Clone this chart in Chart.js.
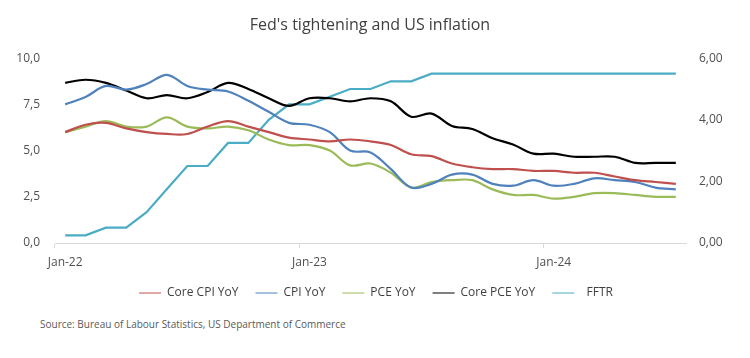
<!DOCTYPE html>
<html><head><meta charset="utf-8">
<script src="https://cdn.jsdelivr.net/npm/chart.js@4"></script>
<style>
html,body{margin:0;padding:0;background:#fff;width:750px;height:358px;overflow:hidden;}
#wrap{position:relative;width:750px;height:358px;background:#fff;}
#c{position:absolute;left:0;top:0;}
#src{position:absolute;left:40px;top:317px;font-family:'Open Sans';font-size:10px;color:#595959;line-height:14px;white-space:nowrap;}
</style></head><body>
<div id="wrap"><canvas id="c" width="740" height="309"></canvas><div id="src">Source: Bureau of Labour Statistics, US Department of Commerce</div></div>
<script>
const months = ['Jan-22','Feb-22','Mar-22','Apr-22','May-22','Jun-22','Jul-22','Aug-22','Sep-22','Oct-22','Nov-22','Dec-22',
  'Jan-23','Feb-23','Mar-23','Apr-23','May-23','Jun-23','Jul-23','Aug-23','Sep-23','Oct-23','Nov-23','Dec-23',
  'Jan-24','Feb-24','Mar-24','Apr-24','May-24','Jun-24','Jul-24'];
const coreCpiYoY = [6.0,6.4,6.5,6.2,6.0,5.9,5.9,6.3,6.6,6.3,6.0,5.7,5.6,5.5,5.6,5.5,5.3,4.8,4.7,4.3,4.1,4.0,4.0,3.9,3.9,3.8,3.8,3.6,3.4,3.3,3.2];
const cpiYoY = [7.5,7.9,8.5,8.3,8.6,9.1,8.5,8.3,8.2,7.7,7.1,6.5,6.4,6.0,5.0,4.9,4.0,3.0,3.2,3.7,3.7,3.2,3.1,3.4,3.1,3.2,3.5,3.4,3.3,3.0,2.9];
const pceYoY = [6.0,6.3,6.6,6.3,6.3,6.8,6.3,6.2,6.3,6.1,5.6,5.3,5.3,5.0,4.2,4.3,3.8,3.0,3.3,3.4,3.4,2.9,2.6,2.6,2.4,2.5,2.7,2.7,2.6,2.5,2.5];
const corePceYoY = [5.2,5.3,5.2,4.95,4.7,4.8,4.7,4.9,5.2,5.0,4.7,4.45,4.7,4.7,4.6,4.7,4.6,4.1,4.2,3.8,3.7,3.4,3.2,2.9,2.9,2.8,2.8,2.8,2.6,2.6,2.6];
const fftr = [0.25,0.25,0.5,0.5,1.0,1.75,2.5,2.5,3.25,3.25,4.0,4.5,4.5,4.75,5.0,5.0,5.25,5.25,5.5,5.5,5.5,5.5,5.5,5.5,5.5,5.5,5.5,5.5,5.5,5.5,5.5];
const leftTicks = [0, 2.5, 5, 7.5, 10];
const rightTicks = [0, 2, 4, 6];

const FONT = 'Open Sans';
const shiftLegend = {id:'shiftLegend', afterLayout(chart){ const l = chart.legend; if (l) { l.left += 6; l.right += 6; } }};

new Chart(document.getElementById('c'), {
  type: 'line',
  data: {
    labels: months,
    datasets: [
      {label:'Core CPI YoY', data:coreCpiYoY, borderColor:'#C0504D', backgroundColor:'#C0504D', yAxisID:'y'},
      {label:'CPI YoY', data:cpiYoY, borderColor:'#4F81BD', backgroundColor:'#4F81BD', yAxisID:'y'},
      {label:'PCE YoY', data:pceYoY, borderColor:'#9BBB59', backgroundColor:'#9BBB59', yAxisID:'y'},
      {label:'Core PCE YoY', data:corePceYoY, borderColor:'#000000', backgroundColor:'#000000', yAxisID:'y1'},
      {label:'  FFTR', data:fftr, borderColor:'#4BACC6', backgroundColor:'#4BACC6', yAxisID:'y1', tension:0}
    ]
  },
  options: {
    responsive:false, animation:false, devicePixelRatio:1,
    layout:{padding:0},
    elements:{point:{radius:0}, line:{borderWidth:2.2, tension:0.35, fill:false}},
    plugins:{
      title:{display:true, text:"Fed's tightening and US inflation", color:'#404040',
        font:{family:FONT, size:16, weight:'normal'}, padding:{top:16, bottom:23}},
      legend:{position:'bottom', labels:{usePointStyle:true, pointStyle:'line', pointStyleWidth:22, padding:17,
        color:'#404040', font:{family:FONT, size:12}}},
      tooltip:{enabled:false}
    },
    scales:{
      x:{type:'category', offset:true,
        grid:{offset:true, drawOnChartArea:false, drawTicks:true, tickLength:5,
          color:(c)=> (c.index % 12 === 0 ? '#D9D9D9' : 'rgba(0,0,0,0)')},
        border:{display:true, color:'#D9D9D9', width:1},
        ticks:{autoSkip:false, maxRotation:0, minRotation:0, padding:7, color:'#505050', font:{family:FONT, size:12},
          callback:function(v, i){ return i % 12 === 0 ? this.getLabelForValue(v) : ''; }},
        afterFit:(s)=>{ s.height = 27; }},
      y:{position:'left', min:0, max:10,
        afterBuildTicks:(s)=>{ s.ticks = leftTicks.map(v=>({value:v})); },
        ticks:{padding:15, color:'#505050', font:{family:FONT, size:12}, callback:(v)=> v.toFixed(1).replace('.', ',')},
        grid:{display:false, drawTicks:false}, border:{display:false},
        afterFit:(s)=>{ s.width = 55; }},
      y1:{position:'right', min:0, max:6,
        afterBuildTicks:(s)=>{ s.ticks = rightTicks.map(v=>({value:v})); },
        ticks:{padding:13, color:'#505050', font:{family:FONT, size:12}, callback:(v)=> v.toFixed(2).replace('.', ',')},
        grid:{display:false, drawTicks:false}, border:{display:false},
        afterFit:(s)=>{ s.width = 54; }}
    }
  },
  plugins:[shiftLegend]
});
</script>
</body></html>
